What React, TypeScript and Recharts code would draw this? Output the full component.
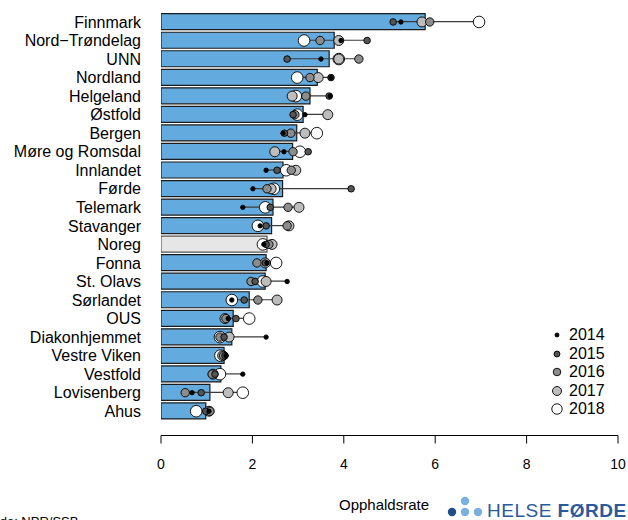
import React from 'react';
import { ComposedChart, Bar, Scatter, XAxis, YAxis, Cell, ErrorBar } from 'recharts';

const FONT = '"Liberation Sans", Arial, Helvetica, sans-serif';

const categories = ['Finnmark', 'Nord\u2212Tr\u00f8ndelag', 'UNN', 'Nordland', 'Helgeland', '\u00d8stfold', 'Bergen', 'M\u00f8re og Romsdal', 'Innlandet', 'F\u00f8rde', 'Telemark', 'Stavanger', 'Noreg', 'Fonna', 'St. Olavs', 'S\u00f8rlandet', 'OUS', 'Diakonhjemmet', 'Vestre Viken', 'Vestfold', 'Lovisenberg', 'Ahus'];

const barValues = [5.78, 3.79, 3.68, 3.42, 3.26, 3.11, 2.97, 2.88, 2.67, 2.66, 2.45, 2.42, 2.32, 2.30, 2.28, 1.93, 1.58, 1.55, 1.38, 1.31, 1.07, 0.98];
const v2014 = [5.25, 3.94, 3.50, 3.72, 3.70, 3.15, 2.67, 2.69, 2.30, 2.01, 1.79, 2.17, 2.25, 2.32, 2.76, 1.55, 1.47, 2.30, 1.42, 1.79, 0.68, 1.05];
const v2015 = [5.08, 4.51, 2.76, 3.72, 3.68, 2.89, 2.70, 3.22, 2.54, 4.16, 2.39, 2.30, 2.30, 2.28, 2.06, 1.82, 1.64, 1.38, 1.40, 1.18, 0.88, 0.98];
const v2016 = [5.88, 3.48, 4.33, 3.26, 3.17, 2.93, 2.84, 2.89, 2.85, 2.32, 2.78, 2.76, 2.36, 2.10, 1.97, 2.12, 1.42, 1.29, 1.37, 1.12, 0.53, 1.07];
const v2017 = [5.71, 3.89, 3.89, 3.44, 2.87, 3.65, 3.15, 2.49, 2.95, 2.41, 3.02, 2.80, 2.43, 2.28, 2.30, 2.54, 1.40, 1.49, 1.35, 1.14, 1.47, 1.05];
const v2018 = [6.96, 3.13, 3.89, 2.98, 2.95, 2.98, 3.41, 3.04, 2.74, 2.47, 2.28, 2.12, 2.23, 2.52, 2.23, 1.55, 1.93, 1.29, 1.30, 1.29, 1.79, 0.77];

const xTicks = [0, 2, 4, 6, 8, 10];
const years = ['2014', '2015', '2016', '2017', '2018'];
const yearSeries: Record<string, number[]> = { '2014': v2014, '2015': v2015, '2016': v2016, '2017': v2017, '2018': v2018 };
const yearFill: Record<string, string> = { '2014': '#000000', '2015': '#555555', '2016': '#8c8c8c', '2017': '#bdbdbd', '2018': '#ffffff' };
const yearR: Record<string, number> = { '2014': 2.2, '2015': 3.3, '2016': 4.2, '2017': 5, '2018': 5.8 };

const data = categories.map((name, i) => {
  const vals = years.map((y) => yearSeries[y][i]);
  const mn = Math.min(...vals);
  const mx = Math.max(...vals);
  const row: any = { name, bar: barValues[i], err: [Math.max(0, barValues[i] - mn), Math.max(0, mx - barValues[i])] };
  years.forEach((y) => { row['y' + y] = yearSeries[y][i]; });
  return row;
});

const makeShape = (year: string) => (props: any) => {
  if (props.cx == null || props.cy == null) return <g />;
  return <circle cx={props.cx} cy={props.cy} r={yearR[year]} fill={yearFill[year]} stroke="#000" strokeWidth={0.9} />;
};

const LegendBox = () => (
  <div style={{ position: 'absolute', left: 550, top: 326, fontFamily: FONT, fontSize: 16, color: '#000' }}>
    {years.map((y) => (
      <div key={y} style={{ height: 18.5, display: 'flex', alignItems: 'center' }}>
        <svg width={14} height={14} style={{ display: 'block' }}>
          <circle cx={7} cy={7} r={yearR[y] * 0.9} fill={yearFill[y]} stroke="#000" strokeWidth={0.9} />
        </svg>
        <span style={{ marginLeft: 5, lineHeight: '18px' }}>{y}</span>
      </div>
    ))}
  </div>
);

export default function App() {
  return (
    <div style={{ position: 'absolute', left: 0, top: 0, width: 628, height: 520, overflow: 'hidden', background: '#fff' }}>
      <ComposedChart
        width={628}
        height={520}
        data={data}
        layout="vertical"
        margin={{ top: 12.7, right: 10, bottom: 44.5, left: 0 }}
      >
        <XAxis
          type="number"
          domain={[0, 10]}
          ticks={xTicks}
          allowDataOverflow
          axisLine={{ stroke: '#000' }}
          tickLine={{ stroke: '#000' }}
          tickSize={8}
          tickMargin={16}
          height={40}
          tick={{ fill: '#000', fontSize: 14, fontFamily: FONT }}
        />
        <YAxis
          type="category"
          dataKey="name"
          width={161}
          interval={0}
          axisLine={false}
          tickLine={false}
          tickSize={0}
          tickMargin={20}
          padding={{ top: 0, bottom: 15 }}
          tick={{ fill: '#000', fontSize: 16, fontFamily: FONT }}
        />
        <Bar dataKey="bar" barSize={16} stroke="#1a1a1a" strokeWidth={1.2} isAnimationActive={false}>
          {data.map((d, i) => (
            <Cell key={i} fill={d.name === 'Noreg' ? '#e6e6e6' : '#63aade'} stroke={d.name === 'Noreg' ? '#555' : '#1a1a1a'} />
          ))}
          <ErrorBar dataKey="err" direction="x" width={0} stroke="#3a3a3a" strokeWidth={1.2} />
        </Bar>
        {[...years].reverse().map((y) => (
          <Scatter key={y} name={y} dataKey={'y' + y} shape={makeShape(y)} isAnimationActive={false} />
        ))}
      </ComposedChart>
      <LegendBox />
      <div style={{ position: 'absolute', left: 339, top: 496, fontFamily: FONT, fontSize: 15, color: '#000', whiteSpace: 'nowrap' }}>Opphaldsrate</div>
      <svg style={{ position: 'absolute', left: 444, top: 492 }} width={44} height={28}>
        <circle cx={8} cy={20} r={4.2} fill="#1d4f8b" />
        <circle cx={21} cy={9} r={4.2} fill="#7ab0e0" />
        <circle cx={21} cy={20} r={4.2} fill="#7ab0e0" />
        <circle cx={34} cy={20} r={4.2} fill="#7ab0e0" />
      </svg>
      <div style={{ position: 'absolute', left: 487, top: 500, fontFamily: FONT, fontSize: 19, color: '#2a5a9a', whiteSpace: 'nowrap', letterSpacing: 0.5 }}>
        HELSE <b>FØRDE</b>
      </div>
      <div style={{ position: 'absolute', left: -22, top: 514, fontFamily: FONT, fontSize: 13, color: '#000', whiteSpace: 'nowrap' }}>Kjelde: NPR/SSB</div>
    </div>
  );
}
